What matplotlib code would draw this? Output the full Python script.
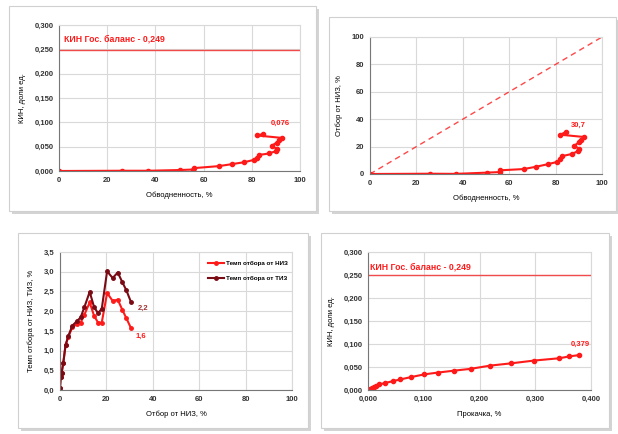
import numpy as np
import matplotlib.pyplot as plt
from matplotlib.patches import Rectangle
from matplotlib.ticker import FuncFormatter, MultipleLocator

plt.rcParams['font.family'] = ['Liberation Sans', 'DejaVu Sans']

# --- data ---
# panel 1: КИН vs обводненность
wc1 = [0, 26, 37, 50.3, 55.5, 56.2, 66.3, 71.6, 76.8, 81.0, 82.2, 83.0, 87.2,
       90.0, 90.6, 88.2, 90.3, 91.2, 92.5, 82.2, 84.7]
kin1 = [0.000, 0.0005, 0.0005, 0.002, 0.003, 0.006, 0.010, 0.014, 0.018, 0.023,
        0.027, 0.033, 0.036, 0.041, 0.045, 0.052, 0.058, 0.063, 0.068, 0.073, 0.076]
# panel 2: отбор от НИЗ vs обводненность
wc2 = [0, 26, 37, 50.4, 55.9, 56.2, 66.2, 71.6, 76.8, 80.8, 82.0, 82.7, 87.2,
       89.8, 90.3, 88.1, 90.0, 91.1, 92.3, 82.0, 84.5]
otb2 = [0, 0.2, 0.1, 1.0, 1.4, 2.7, 3.6, 5.3, 7.2, 8.9, 10.6, 13.0, 14.7,
        16.9, 18.1, 20.8, 23.0, 25.1, 27.0, 28.7, 30.7]
# panel 3: темп отбора
otb3 = [0, 0.3, 0.7, 1.4, 2.4, 3.6, 5.3, 7.5, 8.9, 10.5, 12.8, 14.7, 16.4,
        18.0, 20.3, 22.7, 24.9, 26.9, 28.6, 30.6]
temp_niz = [0.06, 0.32, 0.44, 0.68, 1.14, 1.35, 1.59, 1.68, 1.71, 1.91, 2.22,
            1.88, 1.71, 1.71, 2.46, 2.26, 2.29, 2.03, 1.82, 1.57]
temp_tiz = [0.06, 0.32, 0.44, 0.68, 1.14, 1.37, 1.63, 1.76, 1.84, 2.10, 2.49,
            2.10, 1.95, 2.06, 3.01, 2.84, 2.98, 2.73, 2.53, 2.23]
# panel 4: КИН vs прокачка
prok4 = [0.002, 0.004, 0.007, 0.011, 0.014, 0.020, 0.030, 0.044, 0.058, 0.077,
         0.101, 0.126, 0.154, 0.184, 0.219, 0.257, 0.298, 0.343, 0.361, 0.379]
kin4 = [0.000, 0.002, 0.004, 0.007, 0.009, 0.012, 0.015, 0.019, 0.023, 0.028,
        0.034, 0.038, 0.042, 0.046, 0.053, 0.058, 0.064, 0.069, 0.073, 0.076]
kin_gos = 0.249

RED = '#ff1a1a'
DARK = '#7a0a14'
W, H = 618, 434

fig = plt.figure(figsize=(W / 100, H / 100), dpi=100)
fig.patch.set_facecolor('white')


def px(l, t, r, b):
    return [l / W, 1 - b / H, (r - l) / W, (b - t) / H]


def panel(l, t, r, b):
    # shadow then white box, behind the axes
    fig.add_artist(Rectangle((l / W + 3 / W, 1 - b / H - 3 / H), (r - l) / W, (b - t) / H,
                             transform=fig.transFigure, facecolor='#b8b8b8',
                             edgecolor='none', alpha=0.6, zorder=-2))
    fig.add_artist(Rectangle((l / W, 1 - b / H), (r - l) / W, (b - t) / H,
                             transform=fig.transFigure, facecolor='white',
                             edgecolor='#d0d0d0', lw=0.8, zorder=-1))


def comma(fmt):
    return FuncFormatter(lambda v, p: (fmt % v).replace('.', ','))


def style(ax, xlabel, ylabel):
    ax.grid(True, color='#d9d9d9', lw=0.8)
    ax.set_axisbelow(True)
    for s in ['top', 'right']:
        ax.spines[s].set_color('#d9d9d9')
    for s in ['left', 'bottom']:
        ax.spines[s].set_color('#777777')
        ax.spines[s].set_linewidth(0.8)
    ax.tick_params(labelsize=5.5, length=0, pad=4, colors='#333333')
    for lab in ax.get_xticklabels() + ax.get_yticklabels():
        lab.set_fontweight('bold')
    ax.set_xlabel(xlabel, fontsize=5.5, labelpad=6)
    ax.set_ylabel(ylabel, fontsize=5.5, labelpad=6)


panel(9, 6, 316, 211)
panel(329, 17, 616, 211)
panel(18, 233, 308, 428)
panel(321, 233, 609, 428)

# panel 1
ax1 = fig.add_axes(px(59, 25, 300, 171))
ax1.plot(wc1, kin1, color=RED, lw=1.5, marker='o', ms=3)
ax1.axhline(kin_gos, color='#f04a4a', lw=1.0)
ax1.text(2, 0.266, 'КИН Гос. баланс - 0,249', color=RED, fontsize=6.3, fontweight='bold')
ax1.text(wc1[-1] + 3, kin1[-1] + 0.018, '0,076', color=RED, fontsize=5.5, fontweight='bold')
ax1.set_xlim(0, 100)
ax1.set_ylim(0, 0.3)
ax1.xaxis.set_major_locator(MultipleLocator(20))
ax1.yaxis.set_major_locator(MultipleLocator(0.05))
ax1.yaxis.set_major_formatter(comma('%.3f'))
style(ax1, 'Обводненность, %', 'КИН, доли ед.')

# panel 2
ax2 = fig.add_axes(px(370, 37, 602, 174))
ax2.plot([0, 100], [0, 100], color=RED, lw=1.0, ls=(0, (4, 3)), alpha=0.8)
ax2.plot(wc2, otb2, color=RED, lw=1.5, marker='o', ms=3)
ax2.text(wc2[-1] + 2, otb2[-1] + 4, '30,7', color=RED, fontsize=5.5, fontweight='bold')
ax2.set_xlim(0, 100)
ax2.set_ylim(0, 100)
ax2.xaxis.set_major_locator(MultipleLocator(20))
ax2.yaxis.set_major_locator(MultipleLocator(20))
style(ax2, 'Обводненность, %', 'Отбор от НИЗ, %')

# panel 3
ax3 = fig.add_axes(px(60, 252, 292, 390))
ax3.plot(otb3, temp_niz, color=RED, lw=1.5, marker='o', ms=2.5, label='Темп отбора от НИЗ')
ax3.plot(otb3, temp_tiz, color=DARK, lw=1.5, marker='o', ms=2.5, label='Темп отбора от ТИЗ')
ax3.text(otb3[-1] + 3, temp_tiz[-1] - 0.2, '2,2', color='#a03030', fontsize=5.5, fontweight='bold')
ax3.text(otb3[-1] + 2, temp_niz[-1] - 0.25, '1,6', color=RED, fontsize=5.5, fontweight='bold')
ax3.set_xlim(0, 100)
ax3.set_ylim(0, 3.5)
ax3.xaxis.set_major_locator(MultipleLocator(20))
ax3.yaxis.set_major_locator(MultipleLocator(0.5))
ax3.yaxis.set_major_formatter(comma('%.1f'))
style(ax3, 'Отбор от НИЗ, %', 'Темп отбора от НИЗ, ТИЗ, %')
leg = ax3.legend(loc='upper right', bbox_to_anchor=(1.0, 0.97), frameon=False, fontsize=4.5,
                 handlelength=2.5, labelspacing=1.6, borderaxespad=0.3, handletextpad=0.3)
for t in leg.get_texts():
    t.set_fontweight('bold')

# panel 4
ax4 = fig.add_axes(px(368, 252, 591, 390))
ax4.plot(prok4, kin4, color=RED, lw=1.5, marker='o', ms=3)
ax4.axhline(kin_gos, color='#f04a4a', lw=1.0)
ax4.text(0.004, 0.262, 'КИН Гос. баланс - 0,249', color=RED, fontsize=6.3, fontweight='bold')
ax4.text(prok4[-1] - 0.015, kin4[-1] + 0.02, '0,379', color=RED, fontsize=5.5, fontweight='bold')
ax4.set_xlim(0, 0.4)
ax4.set_ylim(0, 0.3)
ax4.xaxis.set_major_locator(MultipleLocator(0.1))
ax4.yaxis.set_major_locator(MultipleLocator(0.05))
ax4.xaxis.set_major_formatter(comma('%.3f'))
ax4.yaxis.set_major_formatter(comma('%.3f'))
style(ax4, 'Прокачка, %', 'КИН, доли ед.')

fig.savefig('out.png', dpi=100)
